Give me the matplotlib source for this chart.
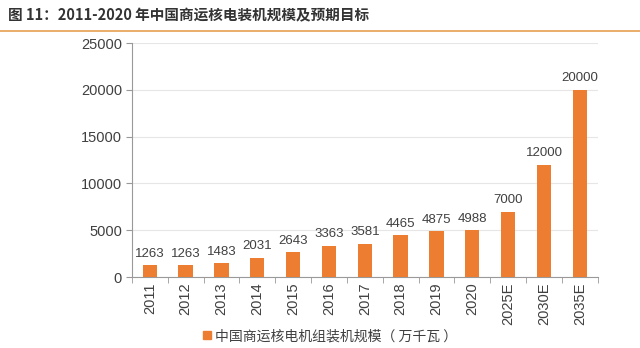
import matplotlib.pyplot as plt
from matplotlib.lines import Line2D

plt.rcParams['font.family'] = ['Noto Sans CJK SC', 'DejaVu Sans']

# data
years = ["2011", "2012", "2013", "2014", "2015", "2016", "2017",
         "2018", "2019", "2020", "2025E", "2030E", "2035E"]
capacity = [1263, 1263, 1483, 2031, 2643, 3363, 3581,
            4465, 4875, 4988, 7000, 12000, 20000]
yticks = [0, 5000, 10000, 15000, 20000, 25000]

bar_color = "#ED7D31"
text_color = "#404040"

fig = plt.figure(figsize=(6.4, 3.48), dpi=100)
ax = fig.add_axes([0.206, 0.204, 0.728, 0.672])

x = list(range(len(years)))
ax.bar(x, capacity, width=0.4, color=bar_color, zorder=3)

# value labels above bars
for xi, v in zip(x, capacity):
    ax.text(xi, v + 600, str(v), ha="center", va="bottom",
            fontsize=9.5, color=text_color, family="Liberation Sans")

ax.set_xlim(-0.5, len(years) - 0.5)
ax.set_ylim(0, 25000)
ax.set_yticks(yticks)
ax.set_yticklabels([str(t) for t in yticks], family="Liberation Sans",
                   fontsize=10.5, color=text_color)
ax.set_xticks(x)
ax.set_xticklabels(years, rotation=90, family="Liberation Sans",
                   fontsize=10.5, color=text_color)
ax.set_xticks([i - 0.5 for i in range(len(years) + 1)], minor=True)
ax.tick_params(axis="x", which="major", length=0, pad=4)
ax.tick_params(axis="x", which="minor", length=4, color="#999999")
ax.tick_params(axis="y", length=4, color="#999999", pad=3)

# grid lines
ax.grid(axis="y", color="#e6e6e6", linewidth=0.8, zorder=0)
for side in ["top", "right"]:
    ax.spines[side].set_visible(False)
ax.spines["left"].set_color("#999999")
ax.spines["bottom"].set_color("#999999")

# title and rule
fig.text(0.012, 0.955, "图 11：2011-2020 年中国商运核电装机规模及预期目标",
         fontsize=10.5, fontweight="bold", color="#333333", va="center")
fig.add_artist(Line2D([0, 1], [0.91, 0.91], color="#E8A050", linewidth=1.2))

# legend
handle = Line2D([], [], marker="s", linestyle="none", color=bar_color, markersize=6)
fig.legend([handle], ["中国商运核电机组装机规模（ 万千瓦 ）"],
           loc="center", bbox_to_anchor=(0.513, 0.034), frameon=False,
           fontsize=10, handletextpad=0.05, handlelength=1.0,
           labelcolor=text_color)

fig.savefig("out.png", dpi=100)
